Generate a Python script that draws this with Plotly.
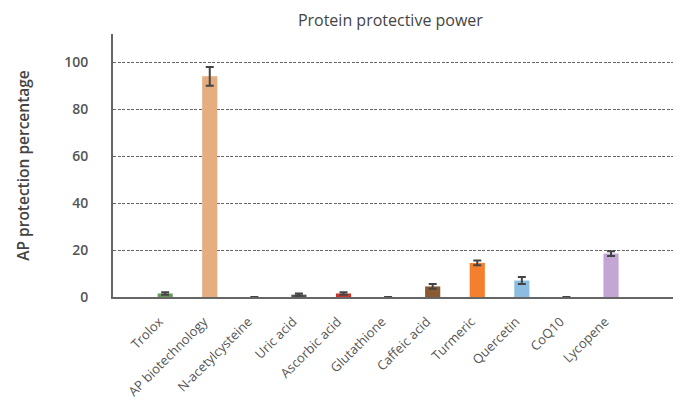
import plotly.graph_objects as go

categories = ["Trolox", "AP biotechnology", "N-acetylcysteine", "Uric acid", "Ascorbic acid",
              "Glutathione", "Caffeic acid", "Turmeric", "Quercetin", "CoQ10", "Lycopene"]
values = [1.5, 94, 0, 1, 1.5, 0, 4.5, 14.5, 7, 0, 18.5]
errors = [0.5, 4, None, 0.5, 0.5, None, 1, 1, 1.5, None, 1]
colors = ["#6a9a5e", "#e6ad80", "#ffffff", "#555555", "#c8352e", "#ffffff",
          "#8a5a33", "#f47f2c", "#8cbde0", "#ffffff", "#c3a6d3"]
yticks = [0, 20, 40, 60, 80, 100]

x_idx = list(range(len(categories)))

fig = go.Figure()
fig.add_trace(go.Bar(
    x=x_idx, y=values, width=0.34,
    marker=dict(color=colors, line=dict(width=0)),
    error_y=dict(type="data", array=errors, visible=True, color="#444444", thickness=2, width=4),
))

font_family = "Open Sans, Noto Sans, sans-serif"
fig.update_layout(
    width=665, height=394,
    margin=dict(l=105, r=0, t=26, b=105, autoexpand=False),
    paper_bgcolor="white", plot_bgcolor="white",
    showlegend=False,
    title=dict(text="Protein protective power", x=0.575, xanchor="center", y=0.982, yanchor="top",
               font=dict(family=font_family, size=16, color="#444444")),
    xaxis=dict(
        tickmode="array", tickvals=x_idx, ticktext=categories, tickangle=-45,
        range=[-1.17, 11.39], showgrid=False, zeroline=False,
        showline=True, linecolor="#666666", linewidth=2,
        ticks="outside", ticklen=10, tickcolor="rgba(0,0,0,0)", ticklabelshift=-6,
        tickfont=dict(family=font_family, size=13, color="#555555"),
    ),
    yaxis=dict(
        range=[0, 112], tickmode="array", tickvals=yticks,
        showgrid=True, gridcolor="#666666", griddash="3px,1.5px", gridwidth=1,
        zeroline=False, showline=True, linecolor="#666666", linewidth=2,
        ticks="outside", ticklen=20, tickcolor="rgba(0,0,0,0)",
        tickfont=dict(family=font_family, size=14, color="#555555", weight=600),
        title=dict(text="AP protection percentage", standoff=31,
                   font=dict(family=font_family, size=15.5, color="#444444", weight=600)),
    ),
)

fig.write_html("out.html")
